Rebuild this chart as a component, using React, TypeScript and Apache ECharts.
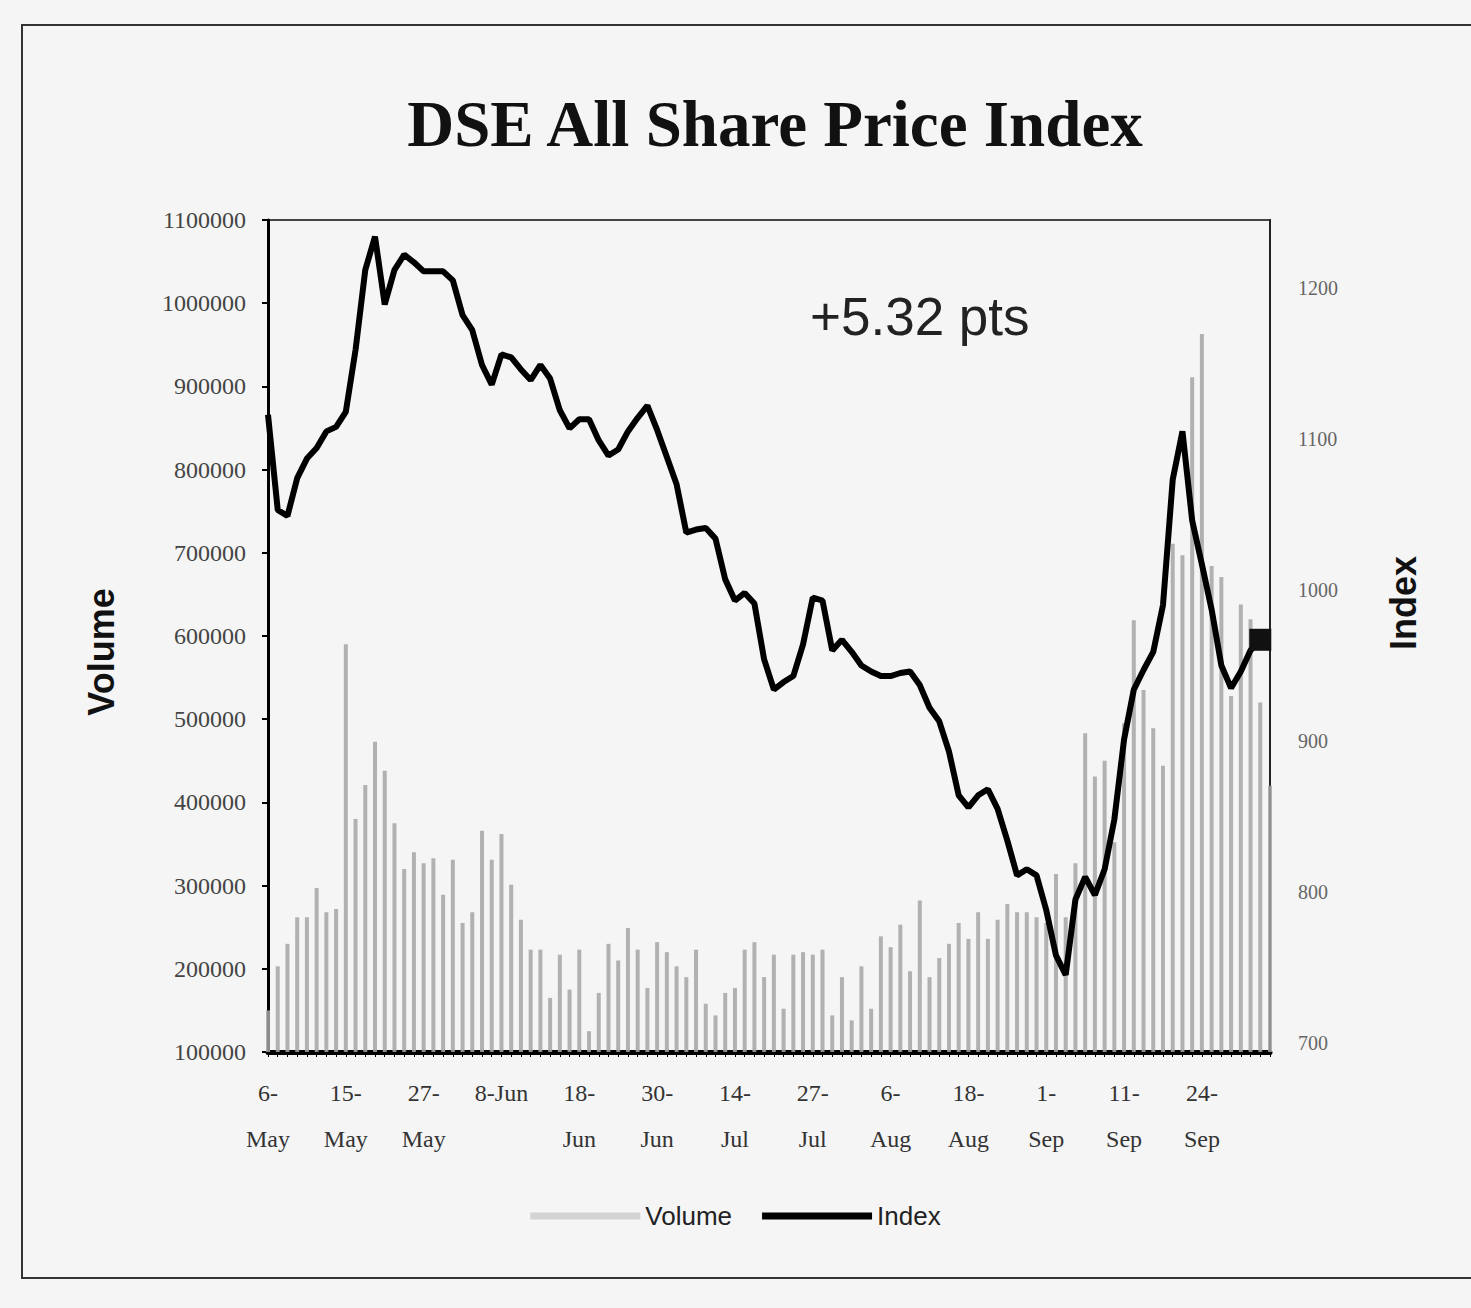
import React, { useEffect, useRef } from "react";
import * as echarts from "echarts";

const categories: string[] = [
  "6-May", "7-May", "8-May", "9-May", "11-May", "12-May", "13-May", "14-May",
  "15-May", "16-May", "18-May", "19-May", "20-May", "21-May", "22-May", "25-May",
  "27-May", "28-May", "29-May", "30-May", "1-Jun", "2-Jun", "3-Jun", "5-Jun",
  "8-Jun", "9-Jun", "10-Jun", "11-Jun", "12-Jun", "15-Jun", "16-Jun", "17-Jun",
  "18-Jun", "19-Jun", "22-Jun", "23-Jun", "24-Jun", "25-Jun", "26-Jun", "29-Jun",
  "30-Jun", "1-Jul", "2-Jul", "6-Jul", "7-Jul", "8-Jul", "9-Jul", "13-Jul",
  "14-Jul", "15-Jul", "16-Jul", "20-Jul", "21-Jul", "22-Jul", "23-Jul", "24-Jul",
  "27-Jul", "28-Jul", "29-Jul", "30-Jul", "31-Jul", "3-Aug", "4-Aug", "5-Aug",
  "6-Aug", "7-Aug", "10-Aug", "11-Aug", "12-Aug", "13-Aug", "14-Aug", "17-Aug",
  "18-Aug", "19-Aug", "20-Aug", "24-Aug", "25-Aug", "26-Aug", "27-Aug", "31-Aug",
  "1-Sep", "2-Sep", "3-Sep", "4-Sep", "7-Sep", "8-Sep", "9-Sep", "10-Sep",
  "11-Sep", "14-Sep", "15-Sep", "16-Sep", "17-Sep", "21-Sep", "22-Sep", "23-Sep",
  "24-Sep", "25-Sep", "28-Sep", "29-Sep", "30-Sep", "1-Oct", "2-Oct", "5-Oct",
];

const volumeValues: number[] = [
  150000, 203000, 230000, 262000, 262000, 297000, 268000, 272000,
  590000, 380000, 421000, 473000, 438000, 375000, 320000, 340000,
  327000, 333000, 289000, 331000, 255000, 268000, 366000, 331000,
  362000, 301000, 259000, 223000, 223000, 165000, 217000, 175000,
  223000, 125000, 171000, 230000, 210000, 249000, 223000, 177000,
  232000, 220000, 203000, 190000, 223000, 158000, 144000, 171000,
  177000, 223000, 232000, 190000, 217000, 152000, 217000, 220000,
  217000, 223000, 144000, 190000, 138000, 203000, 152000, 239000,
  226000, 253000, 197000, 282000, 190000, 213000, 230000, 255000,
  236000, 268000, 236000, 259000, 278000, 268000, 268000, 262000,
  255000, 314000, 262000, 327000, 483000, 431000, 450000, 352000,
  495000, 619000, 535000, 489000, 444000, 711000, 697000, 911000,
  963000, 684000, 671000, 528000, 638000, 620000, 520000, 420000,
];

const indexValues: number[] = [
  1116, 1053, 1049, 1074, 1087, 1094, 1105, 1108,
  1118, 1159, 1212, 1234, 1189, 1212, 1222, 1217,
  1211, 1211, 1211, 1205, 1182, 1172, 1149, 1136,
  1156, 1154, 1146, 1139, 1149, 1140, 1119, 1107,
  1113, 1113, 1099, 1089, 1093, 1105, 1114, 1122,
  1106, 1088, 1070, 1038, 1040, 1041, 1034, 1007,
  993, 998, 991, 954, 934, 939, 943, 964,
  995, 993, 960, 967, 959, 950, 946, 943,
  943, 945, 946, 937, 922, 913, 893, 864,
  856, 864, 868, 855, 834, 811, 815, 811,
  788, 758, 745, 795, 810, 798, 815, 848,
  901, 934, 947, 959, 990, 1073, 1105, 1046,
  1017, 987, 950, 935, 946, 960, 967, 970,
];

const volumeTicks = { min: 100000, max: 1100000, interval: 100000 };
const indexRange = { min: 694, max: 1245 };

const titleText = "DSE All Share Price Index";
const changeText = "+5.32 pts";
const leftAxisName = "Volume";
const rightAxisName = "Index";

export default function App() {
  const ref = useRef<HTMLDivElement>(null);

  useEffect(() => {
    if (!ref.current) return;
    const chart = echarts.init(ref.current, undefined, { renderer: "svg" });

    const serif = "'Liberation Serif', 'DejaVu Serif', serif";
    const sans = "'Liberation Sans', Arial, sans-serif";

    const lineData = indexValues.map((v, i) =>
      i === indexValues.length - 2
        ? { value: v, symbol: "rect", symbolSize: 22, itemStyle: { color: "#111" } }
        : { value: v, symbol: "none" }
    );

    chart.setOption({
      animation: false,
      backgroundColor: "#f5f5f5",
      title: {
        text: titleText,
        left: 770,
        top: 86,
        textAlign: "center",
        textStyle: {
          fontFamily: serif,
          fontWeight: "bold",
          fontSize: 65,
          color: "#111",
        },
      },
      graphic: [
        {
          type: "rect",
          shape: { x: 22, y: 25, width: 1500, height: 1253 },
          style: { fill: "none", stroke: "#333", lineWidth: 2 },
          silent: true,
          z: -1,
        },
        {
          type: "text",
          left: 810,
          top: 290,
          style: {
            text: changeText,
            font: `53px ${sans}`,
            fill: "#222",
          },
        },
        {
          type: "text",
          x: 101,
          y: 652,
          rotation: Math.PI / 2,
          style: {
            text: leftAxisName,
            font: `bold 36px ${sans}`,
            fill: "#111",
            textAlign: "center",
            textVerticalAlign: "middle",
          },
        },
        {
          type: "text",
          x: 1403,
          y: 603,
          rotation: Math.PI / 2,
          style: {
            text: rightAxisName,
            font: `bold 36px ${sans}`,
            fill: "#111",
            textAlign: "center",
            textVerticalAlign: "middle",
          },
        },
      ],
      legend: {
        top: 1198,
        left: "center",
        itemWidth: 110,
        itemHeight: 7,
        itemGap: 30,
        textStyle: { fontFamily: sans, fontSize: 26, color: "#222" },
        data: [
          { name: "Volume", icon: "rect", itemStyle: { color: "#cccccc" } },
          { name: "Index", icon: "rect", itemStyle: { color: "#000" } },
        ],
      },
      grid: {
        left: 268,
        right: 201,
        top: 220,
        bottom: 256,
        show: true,
        borderColor: "#444",
        borderWidth: 2,
        backgroundColor: "transparent",
      },
      xAxis: {
        type: "category",
        data: categories,
        boundaryGap: false,
        axisLine: { lineStyle: { color: "#000", width: 5 } },
        axisTick: { show: true, interval: 0, length: 5, lineStyle: { color: "#000", width: 1 } },
        axisLabel: {
          interval: 7,
          fontFamily: serif,
          fontSize: 24,
          color: "#333",
          lineHeight: 46,
          margin: 18,
          formatter: (v: string) => (v === "8-Jun" ? v : v.replace("-", "-\n")),
        },
        splitLine: { show: false },
      },
      yAxis: [
        {
          type: "value",
          min: volumeTicks.min,
          max: volumeTicks.max,
          interval: volumeTicks.interval,
          position: "left",
          axisLine: { show: true, lineStyle: { color: "#000", width: 3 } },
          axisTick: { show: true, length: 6, lineStyle: { color: "#000", width: 2 } },
          axisLabel: {
            fontFamily: serif,
            fontSize: 24,
            color: "#444",
            margin: 22,
            formatter: (v: number) => String(v),
          },
          splitLine: { show: false },
        },
        {
          type: "value",
          min: indexRange.min,
          max: indexRange.max,
          splitNumber: 5,
          position: "right",
          axisLine: { show: true, lineStyle: { color: "#222", width: 2 } },
          axisTick: { show: false },
          axisLabel: {
            fontFamily: serif,
            fontSize: 20,
            color: "#666",
            margin: 28,
            formatter: (v: number) => (Math.round(v) % 100 === 0 ? String(v) : ""),
          },
          splitLine: { show: false },
        },
      ],
      series: [
        {
          name: "Volume",
          type: "bar",
          yAxisIndex: 0,
          data: volumeValues,
          barWidth: 4,
          itemStyle: { color: "#a4a4a4", opacity: 0.85 },
          z: 1,
        },
        {
          name: "Index",
          type: "line",
          yAxisIndex: 1,
          data: lineData,
          showSymbol: true,
          symbol: "none",
          lineStyle: { color: "#000", width: 6 },
          itemStyle: { color: "#000" },
          z: 3,
        },
      ],
    });

    return () => chart.dispose();
  }, []);

  return (
    <div
      ref={ref}
      style={{ position: "fixed", left: 0, top: 0, width: 1471, height: 1308 }}
    />
  );
}
